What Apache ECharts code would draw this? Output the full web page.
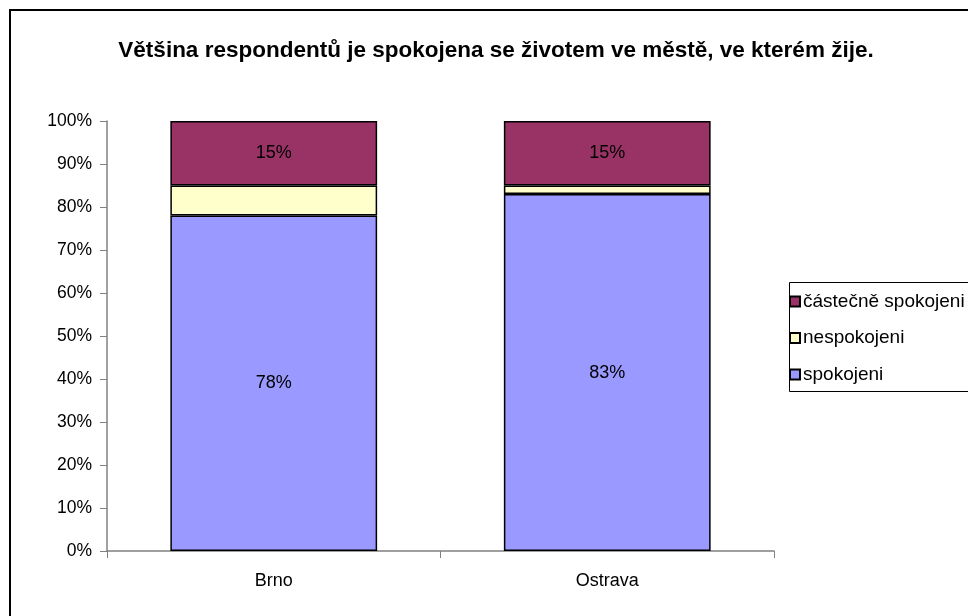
<!DOCTYPE html>
<html>
<head>
<meta charset="utf-8">
<script src="https://cdn.jsdelivr.net/npm/echarts@6/dist/echarts.min.js"></script>
<style>
html,body{margin:0;padding:0;background:#fff;}
#chart{width:968px;height:616px;}
</style>
</head>
<body>
<div id="chart"></div>
<script>
var categories = ["Brno", "Ostrava"];
var spokojeni = [78, 83];
var nespokojeni = [7, 2];
var castecne = [15, 15];
var yTicks = [0, 10, 20, 30, 40, 50, 60, 70, 80, 90, 100];

var font = '"Liberation Sans", Arial, sans-serif';

var chart = echarts.init(document.getElementById("chart"));
var option = {
    animation: false,
    backgroundColor: "#fff",
    title: {
        text: "Většina respondentů je spokojena se životem ve městě, ve kterém žije.",
        left: 491,
        textAlign: "center",
        top: 34,
        textStyle: { fontFamily: font, fontSize: 22.5, fontWeight: "bold", color: "#000" }
    },
    graphic: [{
        type: "rect",
        shape: { x: 10, y: 10, width: 1000, height: 700 },
        style: { fill: "none", stroke: "#000", lineWidth: 2 }
    }, {
        type: "rect",
        shape: { x: 789.5, y: 282.5, width: 300, height: 109 },
        style: { fill: "none", stroke: "#000", lineWidth: 1 }
    }],
    legend: {
        orient: "vertical",
        left: 784,
        top: 287,
        itemWidth: 10,
        itemHeight: 10,
        itemGap: 17.5,
        icon: "rect",
        data: ["částečně spokojeni", "nespokojeni", "spokojeni"],
        textStyle: { fontFamily: font, fontSize: 19, color: "#000", padding: [0, 0, 0, -2] }
    },
    grid: { left: 107, right: 194, top: 121, bottom: 65 },
    xAxis: {
        type: "category",
        data: categories,
        axisLine: { lineStyle: { color: "#808080", width: 1.5 } },
        axisTick: { show: true, length: 7, lineStyle: { color: "#808080" } },
        axisLabel: { fontFamily: font, fontSize: 18, color: "#000", margin: 21 }
    },
    yAxis: {
        type: "value",
        min: 0,
        max: 100,
        interval: 10,
        axisLine: { show: true, lineStyle: { color: "#808080", width: 1.5 } },
        axisTick: { show: true, length: 7, lineStyle: { color: "#808080" } },
        splitLine: { show: false },
        axisLabel: {
            fontFamily: font, fontSize: 17.5, color: "#000", margin: 15,
            formatter: function (v) { return yTicks.indexOf(v) >= 0 ? v + "%" : ""; }
        }
    },
    series: [{
        name: "spokojeni",
        type: "bar",
        stack: "a",
        barWidth: "62%",
        data: spokojeni,
        itemStyle: { color: "#9999FF", borderColor: "#000", borderWidth: 1.5 },
        label: { show: true, position: "inside", formatter: "{c}%", fontFamily: font, fontSize: 18, color: "#000" }
    }, {
        name: "nespokojeni",
        type: "bar",
        stack: "a",
        data: nespokojeni,
        itemStyle: { color: "#FFFFCC", borderColor: "#000", borderWidth: 1.5 },
        label: { show: false }
    }, {
        name: "částečně spokojeni",
        type: "bar",
        stack: "a",
        data: castecne,
        itemStyle: { color: "#993366", borderColor: "#000", borderWidth: 1.5 },
        label: { show: true, position: "inside", formatter: "{c}%", fontFamily: font, fontSize: 18, color: "#000" }
    }]
};
chart.setOption(option);
window.addEventListener("resize", function () {
    chart.resize();
});
</script>
</body>
</html>
